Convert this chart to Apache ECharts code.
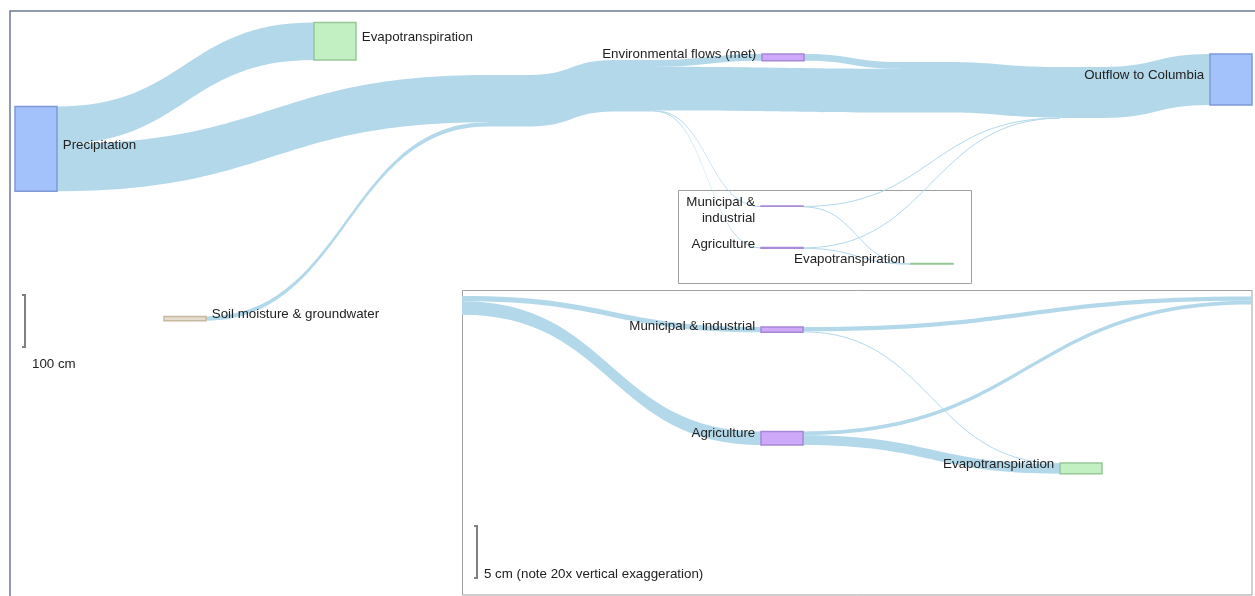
<!DOCTYPE html>
<html><head><meta charset="utf-8">
<script src="https://cdn.jsdelivr.net/npm/echarts@6/dist/echarts.min.js"></script>
<style>html,body{margin:0;padding:0;background:#fff}#chart{width:1255px;height:596px}</style>
</head><body><div id="chart"></div>
<script>
// ================= DATA (water balance, cm) =================
// Main diagram nodes ('' = hidden junction where flows merge / split)
const mainNodeIds    = ['precip', 'soil', 'et', 'j1', 'j2', 'env', 'mi', 'ag', 'ja', 'j3', 'et2', 'outflow'];
const mainNodeNames  = ['Precipitation', 'Soil moisture & groundwater', 'Evapotranspiration', '', '',
                        'Environmental flows (met)', 'Municipal &\nindustrial', 'Agriculture', '', '', 'Evapotranspiration',
                        'Outflow to Columbia'];
const mainNodeDepths = [0, 0, 1, 1, 2, 3, 3, 3, 4, 5, 5, 6];
const mainSources = ['precip', 'precip', 'soil', 'j1', 'j2', 'env', 'j2', 'j2', 'j2', 'ja', 'mi', 'mi', 'ag', 'ag', 'j3'];
const mainTargets = ['et', 'j1', 'j1', 'j2', 'env', 'ja', 'ja', 'mi', 'ag', 'j3', 'j3', 'et2', 'j3', 'et2', 'outflow'];
const mainValues  = [72, 91, 8, 99, 13, 13, 84.2, 0.5, 1.3, 97.2, 0.42, 0.08, 0.35, 0.95, 97.97];

// Inset (water use, 20x vertical exaggeration)
const insetNodeIds    = ['in', 'mi', 'ag', 'out', 'et'];
const insetNodeNames  = ['', 'Municipal & industrial', 'Agriculture', '', 'Evapotranspiration'];
const insetNodeDepths = [0, 1, 1, 2, 2];
const insetSources = ['in', 'in', 'mi', 'mi', 'ag', 'ag'];
const insetTargets = ['mi', 'ag', 'out', 'et', 'out', 'et'];
const insetValues  = [0.5, 1.3, 0.42, 0.08, 0.35, 0.95];

// Scale bars (cm)
const scaleLabels = ['100 cm', '5 cm (note 20x vertical exaggeration)'];
const scaleValues = [100, 5];

// ================= LAYOUT / STYLE =================
const W = 1255;
const KY_MAIN = 0.52;          // px per cm
const EXAGGERATION = 20;
const KY_INSET = KY_MAIN * EXAGGERATION;
const NODE_W = 42;
const FONT = '"Liberation Sans", Arial, sans-serif';
const FS = 13.33;
const LINK = '#b3d8ea';

const mainPos = {
  precip: [15, 106.5], soil: [164, 316.5], et: [314, 22.5], j1: [488, 75], j2: [613, 60],
  env: [762, 54], mi: [761, 206], ag: [761, 247.5], ja: [900, 62], j3: [1060, 67], et2: [911, 263.5], outflow: [1210, 54]
};
const insetPos = { in: [420, 296], mi: [761, 327], ag: [761, 431.5], out: [1252, 296.5], et: [1060, 463] };

const sBlue   = {color: '#a3c1fb', borderColor: '#7f99d7', borderWidth: 1.5};
const sGreen  = {color: '#c3f0c3', borderColor: '#98c898', borderWidth: 1.5};
const sPurple = {color: '#cfa9f9', borderColor: '#a687d6', borderWidth: 1.5};
const sSoil   = {color: '#e6dccd', borderColor: '#c8b8a0', borderWidth: 1.5};
const sJunc   = {color: LINK, borderWidth: 0};
const sHidden = {color: 'rgba(0,0,0,0)', borderWidth: 0};
const sThinP  = {color: '#a98bd8', borderColor: '#a98bd8', borderWidth: 1.5};
const sThinG  = {color: '#93c693', borderColor: '#93c693', borderWidth: 1.5};

function lbl(position, dy) {
  return {show: true, position: position, distance: 5, offset: [0, dy],
    fontFamily: FONT, fontSize: FS, color: '#222', lineHeight: 16};
}
const noLbl = {show: false};

const mainStyle = {
  precip: [sBlue, lbl('right', -4)], soil: [sSoil, lbl('right', -4)], et: [sGreen, lbl('right', -4)],
  j1: [sJunc, noLbl], j2: [sJunc, noLbl], env: [sPurple, lbl('left', -3)],
  mi: [sThinP, lbl('left', 4)], ag: [sThinP, lbl('left', -4)], ja: [sJunc, noLbl], j3: [sJunc, noLbl],
  et2: [sThinG, lbl('left', -4)], outflow: [sBlue, lbl('left', -4)]
};
const insetStyle = {
  in: [sHidden, noLbl], mi: [sPurple, lbl('left', -3)], ag: [sPurple, lbl('left', -5)],
  out: [sHidden, noLbl], et: [sGreen, lbl('left', -4)]
};

// height of the layout box so that the library's value scale equals ky
function boxHeight(ids, depths, sources, targets, values, ky) {
  const inV = {}, outV = {};
  sources.forEach((s, i) => { outV[s] = (outV[s] || 0) + values[i]; });
  targets.forEach((t, i) => { inV[t] = (inV[t] || 0) + values[i]; });
  const col = {};
  ids.forEach((id, i) => {
    const v = Math.max(inV[id] || 0, outV[id] || 0);
    col[depths[i]] = (col[depths[i]] || 0) + v;
  });
  return ky * Math.max.apply(null, Object.values(col));
}

function buildSeries(ids, names, depths, sources, targets, values, ky, pos, styles) {
  const H = boxHeight(ids, depths, sources, targets, values, ky);
  const data = ids.map((id, i) => {
    const label = Object.assign({}, styles[id][1]);
    if (label.show) label.formatter = names[i];
    return {
      id: id, name: names[i], depth: depths[i],
      localX: pos[id][0] / W, localY: pos[id][1] / H,
      itemStyle: styles[id][0], label: label
    };
  });
  const links = sources.map((s, i) => ({source: s, target: targets[i], value: values[i]}));
  return {
    type: 'sankey', left: 0, top: 0, width: W, height: H,
    nodeWidth: NODE_W, nodeGap: 0, layoutIterations: 0, nodeAlign: 'left',
    draggable: false, silent: true, emphasis: {disabled: true},
    lineStyle: {color: LINK, opacity: 1, curveness: 0.5},
    data: data, links: links
  };
}

function scaleBar(x, top, len, text, ty) {
  return [
    {type: 'polyline', z: 5, shape: {points: [[x - 3, top], [x, top], [x, top + len], [x - 3, top + len]]},
     style: {stroke: '#808080', lineWidth: 2, fill: null}},
    {type: 'text', z: 5, x: x + 7, y: ty,
     style: {text: text, fontFamily: FONT, fontSize: FS, fill: '#222', align: 'left', verticalAlign: 'middle'}}
  ];
}

const chart = echarts.init(document.getElementById('chart'), null, {renderer: 'canvas'});
chart.setOption({
  animation: false,
  backgroundColor: '#fff',
  graphic: [
    {type: 'polyline', z: 1, shape: {points: [[10, 596], [10, 11], [1255, 11]]}, style: {stroke: '#6b7896', lineWidth: 1.5, fill: null}},
    {type: 'rect', z: 1, shape: {x: 678.5, y: 190.5, width: 293, height: 93}, style: {fill: null, stroke: '#a0a0a0', lineWidth: 1}},
    {type: 'rect', z: 1, shape: {x: 462.5, y: 290.5, width: 789.5, height: 304.5}, style: {fill: null, stroke: '#a0a0a0', lineWidth: 1}}
  ].concat(
    scaleBar(25, 295, scaleValues[0] * KY_MAIN, scaleLabels[0], 364),
    scaleBar(477, 526, scaleValues[1] * KY_INSET, scaleLabels[1], 574)
  ),
  series: [
    buildSeries(mainNodeIds, mainNodeNames, mainNodeDepths, mainSources, mainTargets, mainValues, KY_MAIN, mainPos, mainStyle),
    buildSeries(insetNodeIds, insetNodeNames, insetNodeDepths, insetSources, insetTargets, insetValues, KY_INSET, insetPos, insetStyle)
  ]
});
</script></body></html>
